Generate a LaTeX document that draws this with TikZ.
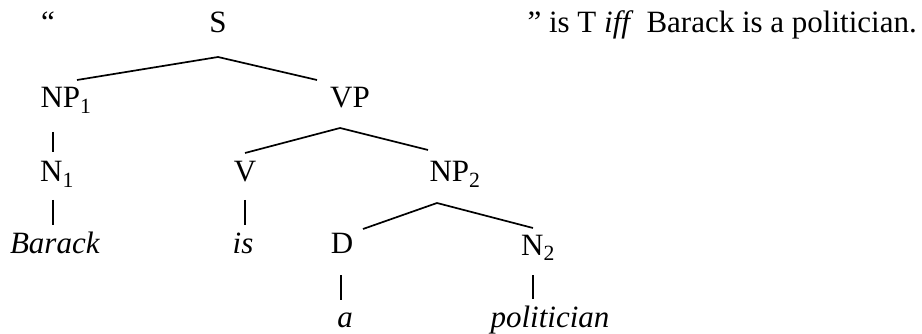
\documentclass[tikz,border=0pt]{standalone}
\usepackage{fontspec}
\setmainfont{Liberation Serif}
\usetikzlibrary{calc}
\begin{document}
\begin{tikzpicture}[x=1pt,y=-1pt,
  lbl/.style={anchor=base,inner sep=0pt,font=\fontsize{31}{37}\selectfont},
  edge/.style={line width=1.7pt}]
\useasboundingbox (0,0) rectangle (922,334);
\node[lbl] (q1) at (48,33) {``};
\node[lbl] (S) at (218,33) {S};
\node[lbl,anchor=base east] (rest) at (917,33) {'' is T \textit{iff}\, Barack is a politician.};
\node[lbl] (NP1) at (66,108) {NP\textsubscript{1}};
\node[lbl] (VP) at (350,108) {VP};
\node[lbl] (N1) at (57,182) {N\textsubscript{1}};
\node[lbl] (V) at (245,182) {V};
\node[lbl] (NP2) at (455,182) {NP\textsubscript{2}};
\node[lbl] (Barack) at (55,254) {\textit{Barack}};
\node[lbl] (is) at (243,254) {\textit{is}};
\node[lbl] (D) at (342,254) {D};
\node[lbl] (N2) at (538,255) {N\textsubscript{2}};
\node[lbl] (a) at (345,327) {\textit{a}};
\node[lbl] (pol) at (550,327) {\textit{politician}};
% S
\draw[edge] ($(NP1.base)+(11,-28)$) -- ($(S.base)+(0,24)$) -- ($(VP.base)+(-33,-28)$);
% NP1 - N1
\draw[edge] ($(NP1.base)+(-13,24)$) -- ($(N1.base)+(-4,-30)$);
\draw[edge] ($(N1.base)+(-4,18)$) -- ($(Barack.base)+(-2,-29)$);
% VP
\draw[edge] ($(V.base)+(0,-29)$) -- ($(VP.base)+(-10,20)$) -- ($(NP2.base)+(-27,-32)$);
\draw[edge] ($(V.base)+(0,18)$) -- ($(is.base)+(2,-29)$);
% NP2
\draw[edge] ($(D.base)+(21,-25)$) -- ($(NP2.base)+(-18,21)$) -- ($(N2.base)+(-5,-27)$);
\draw[edge] ($(D.base)+(-1,21)$) -- ($(a.base)+(-4,-27)$);
\draw[edge] ($(N2.base)+(-5,20)$) -- ($(pol.base)+(-17,-28)$);
\end{tikzpicture}
\end{document}
